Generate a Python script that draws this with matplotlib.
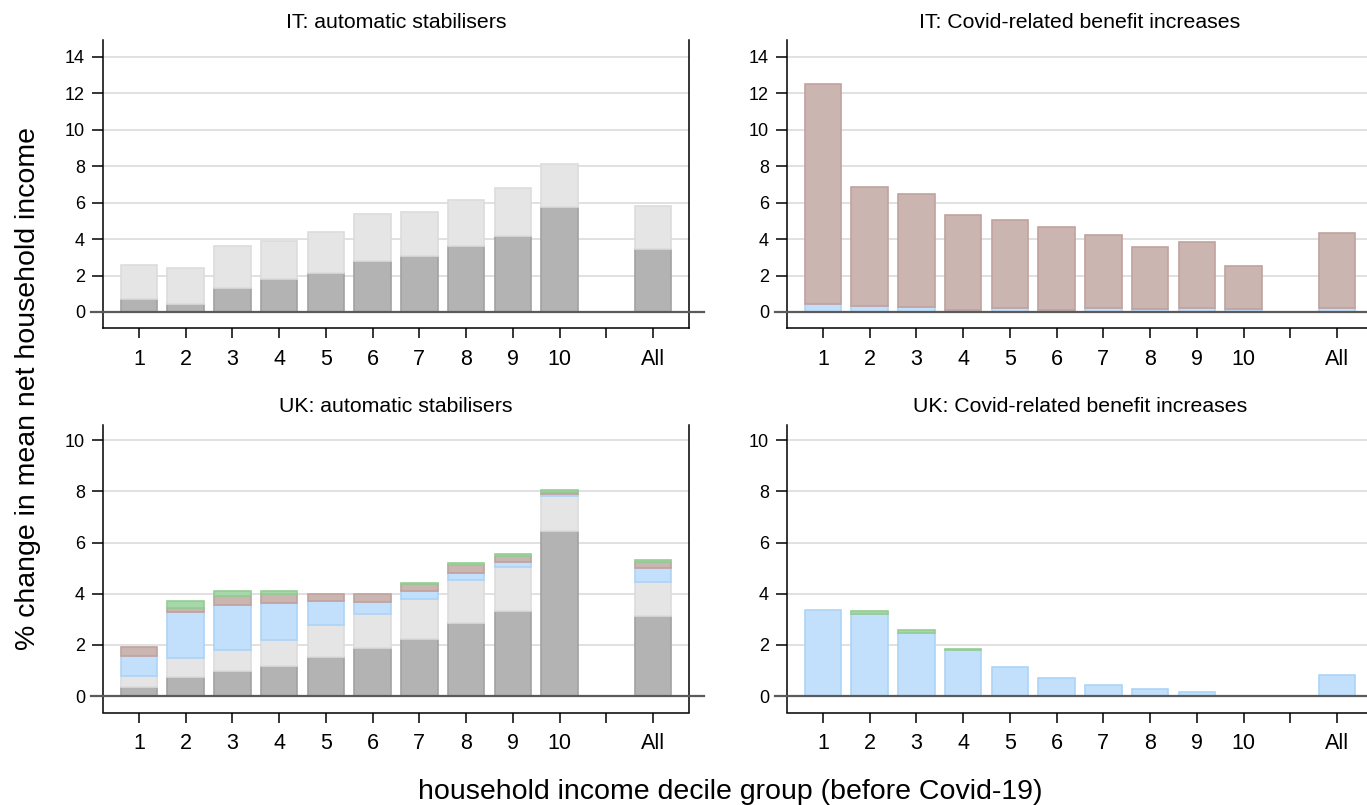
import numpy as np
import matplotlib
matplotlib.use('Agg')
import matplotlib.pyplot as plt

plt.rcParams['font.family'] = ['Liberation Sans', 'DejaVu Sans']

# -------------------------------------------------------------------------------
# Datos (segmentos apilados, % de cambio en el ingreso neto medio del hogar)
categories = ['1', '2', '3', '4', '5', '6', '7', '8', '9', '10', 'All']

# IT: automatic stabilisers
it_auto_dark = [0.69, 0.46, 1.33, 1.83, 2.16, 2.82, 3.09, 3.64, 4.19, 5.78, 3.47]
it_auto_light = [1.91, 1.97, 2.31, 2.05, 2.25, 2.57, 2.41, 2.52, 2.59, 2.34, 2.36]

# IT: Covid-related benefit increases
it_cov_blue = [0.45, 0.35, 0.28, 0.12, 0.22, 0.12, 0.22, 0.17, 0.22, 0.17, 0.22]
it_cov_brown = [12.07, 6.52, 6.17, 5.18, 4.80, 4.52, 3.98, 3.37, 3.60, 2.33, 4.09]

# UK: automatic stabilisers
uk_auto_dark = [0.37, 0.76, 0.99, 1.19, 1.54, 1.86, 2.25, 2.84, 3.31, 6.46, 3.11]
uk_auto_light = [0.43, 0.72, 0.83, 0.99, 1.22, 1.34, 1.54, 1.70, 1.73, 1.34, 1.35]
uk_auto_blue = [0.76, 1.79, 1.72, 1.44, 0.94, 0.47, 0.30, 0.26, 0.20, 0.08, 0.54]
uk_auto_brown = [0.37, 0.19, 0.36, 0.37, 0.30, 0.30, 0.28, 0.31, 0.23, 0.08, 0.24]
uk_auto_green = [0.00, 0.24, 0.19, 0.10, 0.00, 0.00, 0.05, 0.09, 0.08, 0.08, 0.08]

# UK: Covid-related benefit increases
uk_cov_blue = [3.36, 3.22, 2.46, 1.80, 1.15, 0.72, 0.45, 0.26, 0.18, 0.02, 0.81]
uk_cov_green = [0.00, 0.11, 0.11, 0.04, 0.00, 0.00, 0.00, 0.00, 0.00, 0.00, 0.00]
# -------------------------------------------------------------------------------

# colores (relleno, borde)
STYLES = {
  'dark':  ('#b3b3b3', '#a2a2a2'),
  'light': ('#e5e5e5', '#dcdcdc'),
  'blue':  ('#c2e0fc', '#add4f7'),
  'brown': ('#cbb5b1', '#c1a29e'),
  'green': ('#a6d7a8', '#93cd94'),
}

# posiciones: deciles 1..10, hueco, All
pos = np.append(np.arange(1, 11), 12)


def draw_panel(ax, title, series, ylim, yticks):
  base = np.zeros(len(pos))
  for name, vals in series:
    vals = np.array(vals)
    fc, ec = STYLES[name]
    keep = vals > 0  # sin barras de altura cero
    ax.bar(pos[keep], vals[keep], width=0.78, bottom=base[keep], color=fc,
           edgecolor=ec, linewidth=1.2, zorder=2)
    base = base + vals

  ax.set_xlim(0.23, 12.77)
  ax.set_ylim(*ylim)
  ax.set_yticks(yticks)
  ax.set_xticks(list(range(1, 13)))
  ax.set_xticklabels(categories[:10] + [''] + categories[10:])
  ax.grid(axis='y', color='#dcdcdc', linewidth=1.2, zorder=0)
  ax.set_axisbelow(True)
  ax.axhline(0, xmin=-0.02, xmax=1.025, color='#5a5a5a', linewidth=1.6,
             clip_on=False, zorder=3)

  ax.spines['top'].set_visible(False)
  for s in ('left', 'right', 'bottom'):
    ax.spines[s].set_linewidth(1.1)
  ax.tick_params(axis='y', labelsize=13, length=8, width=1.1, pad=5)
  ax.tick_params(axis='x', labelsize=15.5, length=7, width=1.1, pad=8)
  ax.set_title(title, fontsize=15.3, pad=9)


fig = plt.figure(figsize=(13.67, 8.05), dpi=100)

W = 586 / 1367
H = 288 / 805
ax1 = fig.add_axes([103 / 1367, 1 - 328 / 805, W, H])
ax2 = fig.add_axes([787 / 1367, 1 - 328 / 805, W, H])
ax3 = fig.add_axes([103 / 1367, 1 - 712.5 / 805, W, 287.5 / 805])
ax4 = fig.add_axes([787 / 1367, 1 - 712.5 / 805, W, 287.5 / 805])

draw_panel(ax1, 'IT: automatic stabilisers',
           [('dark', it_auto_dark), ('light', it_auto_light)],
           (-0.88, 14.92), range(0, 15, 2))
draw_panel(ax2, 'IT: Covid-related benefit increases',
           [('blue', it_cov_blue), ('brown', it_cov_brown)],
           (-0.88, 14.92), range(0, 15, 2))
draw_panel(ax3, 'UK: automatic stabilisers',
           [('dark', uk_auto_dark), ('light', uk_auto_light), ('blue', uk_auto_blue),
            ('brown', uk_auto_brown), ('green', uk_auto_green)],
           (-0.64, 10.59), range(0, 11, 2))
draw_panel(ax4, 'UK: Covid-related benefit increases',
           [('blue', uk_cov_blue), ('green', uk_cov_green)],
           (-0.64, 10.59), range(0, 11, 2))

fig.text(28 / 1367, 1 - 389 / 805, '% change in mean net household income',
         rotation=90, ha='center', va='center', fontsize=20.5)
fig.text(730 / 1367, 1 - 792 / 805, 'household income decile group (before Covid-19)',
         ha='center', va='center', fontsize=20.5)

plt.savefig('out.png', dpi=100)
plt.close('all')
